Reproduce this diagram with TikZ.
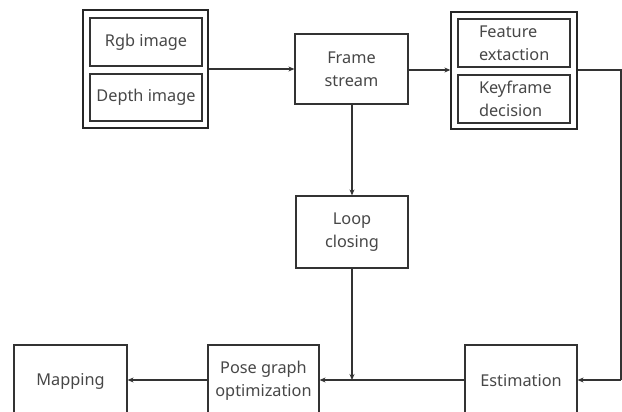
\documentclass[tikz,border=0pt]{standalone}
\usepackage{fontspec}
\setmainfont{Noto Sans}
\usetikzlibrary{arrows.meta,positioning}
\begin{document}
\begin{tikzpicture}[x=1pt,y=-1pt,
  line width=1.2pt, draw=black!80,
  box/.style={draw=black!80, line width=1.2pt, inner sep=0pt, text=black!72, font=\fontsize{16.3}{23}\selectfont, align=center},
  outer/.style={draw=black!85, line width=1.3pt, inner sep=0pt},
  arr/.style={draw=black!80, line width=1.1pt, -{Stealth[length=6pt,width=5pt]}},
  ln/.style={draw=black!80, line width=1.1pt}]
\clip (0,0) rectangle (622,412);
\fill[white] (0,0) rectangle (622,412);
% left group
\node[outer, minimum width=125pt, minimum height=118pt] (lg) at (145.5,69) {};
\node[box, minimum width=112pt, minimum height=48pt] (rgb) at (146,42) {Rgb image};
\node[box, minimum width=112pt, minimum height=47pt] (dep) at (146,97.5) {Depth image};
% frame stream
\node[box, minimum width=113pt, minimum height=70pt] (fs) at (351.5,69) {Frame\\stream};
% right group
\node[outer, minimum width=126pt, minimum height=117pt] (rg) at (514,70.5) {};
\node[box, minimum width=112pt, minimum height=48pt, align=left, text width=70pt] (fe) at (514,43) {Feature\\extaction};
\node[box, minimum width=112pt, minimum height=48pt, align=left, text width=70pt] (kd) at (514,99) {Keyframe\\decision};
% loop closing
\node[box, minimum width=112pt, minimum height=72pt] (lc) at (352,232) {Loop\\closing};
% bottom row
\node[box, minimum width=112pt, minimum height=72pt] (est) at (521,381) {Estimation};
\node[box, minimum width=111pt, minimum height=72pt] (pg) at (263.5,381) {Pose graph\\optimization};
\node[box, minimum width=113pt, minimum height=72pt] (map) at (70.5,381) {Mapping};
\coordinate (c1) at (621,70);
\coordinate (c2) at (621,380);
\coordinate (j) at (352,380);
% connectors
\draw[arr] (lg.east |- 0,69) -- (fs.west |- 0,69);
\draw[arr] (fs.east |- 0,70) -- (rg.west |- 0,70);
\draw[ln] (rg.east |- c1) -- (c1) -- (c2);
\draw[arr] (c2) -- (est.east |- c2);
\draw[arr] (fs.south -| j) -- (lc.north -| j);
\draw[arr] (lc.south -| j) -- (j);
\draw[arr] (est.west |- j) -- (pg.east |- j);
\draw[arr] (pg.west |- j) -- (map.east |- j);
\end{tikzpicture}
\end{document}
